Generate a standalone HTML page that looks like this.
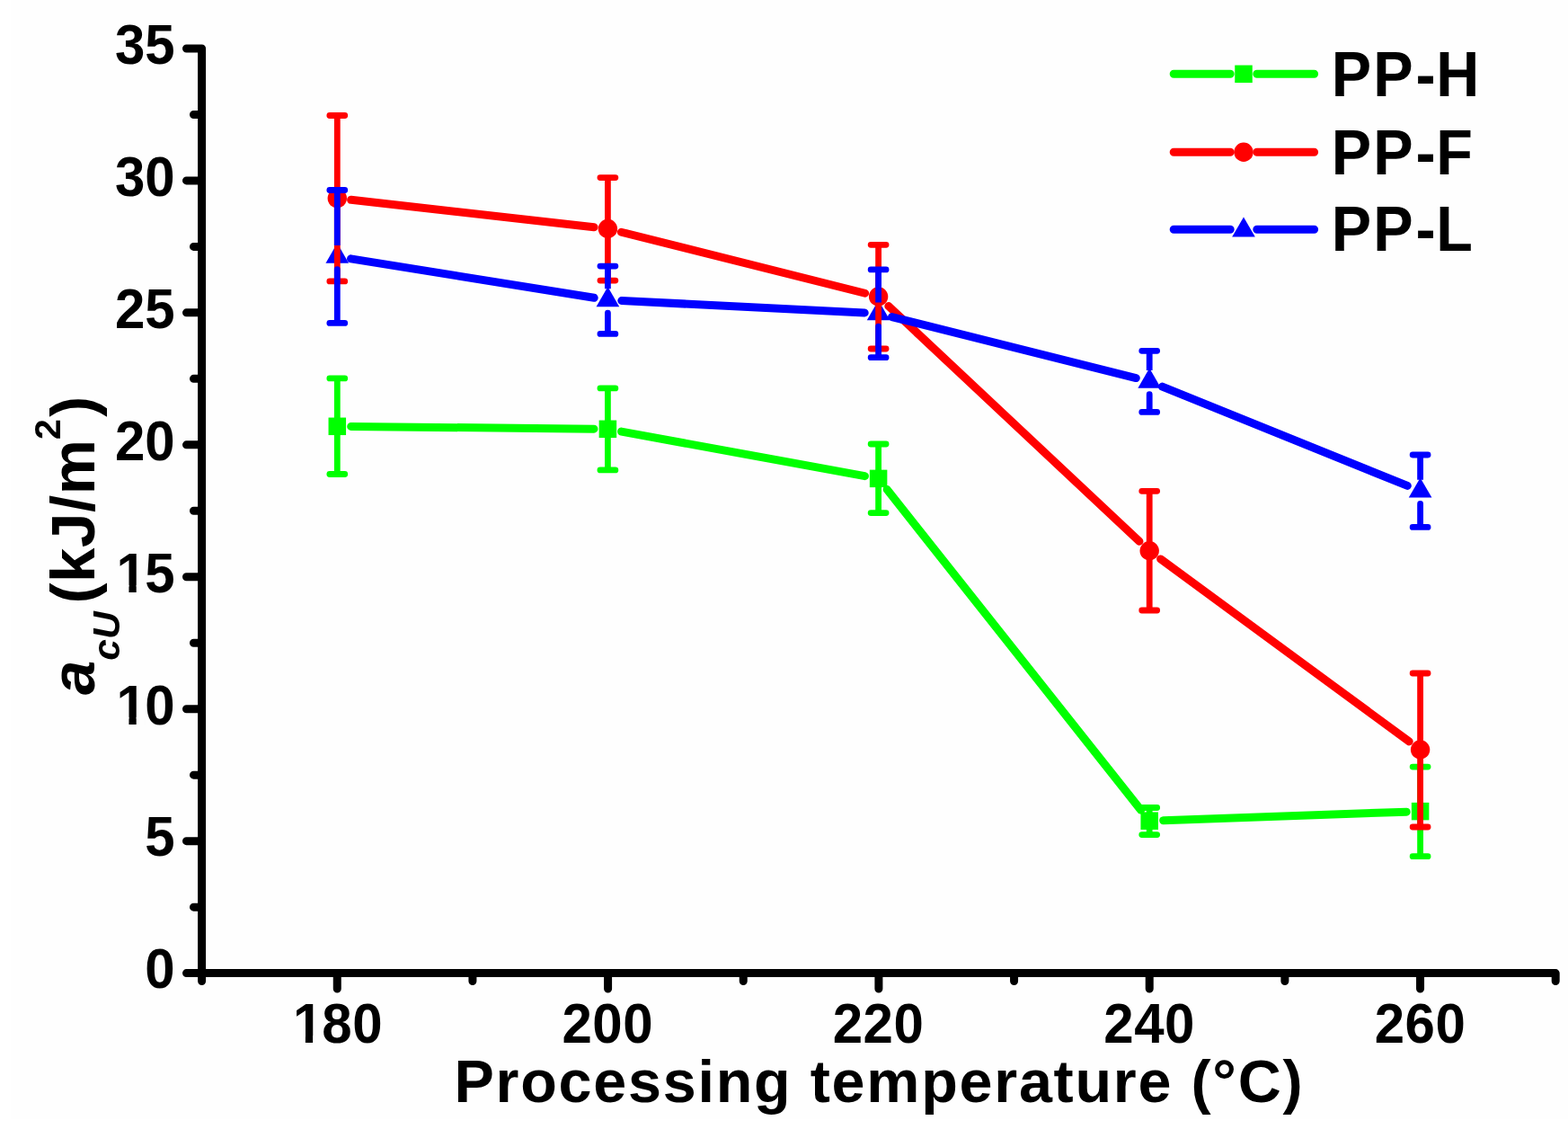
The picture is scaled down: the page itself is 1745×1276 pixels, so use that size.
<!DOCTYPE html>
<html><head><meta charset="utf-8"><title>Processing temperature chart</title>
<style>html,body{margin:0;padding:0;background:#fff;}svg{display:block;}</style>
</head><body>
<svg width="1745" height="1276" viewBox="0 0 1745 1276">
<rect width="1745" height="1276" fill="#fff"/><rect x="12" y="0" width="1733" height="1245" fill="#fefefe"/>
<path d="M224.6 1091.5 L224.6 53.98 L207.5 53.98 M224.6 1082.6 H207.5 M224.6 935.65 H207.5 M224.6 788.71 H207.5 M224.6 641.76 H207.5 M224.6 494.82 H207.5 M224.6 347.87 H207.5 M224.6 200.93 H207.5 M224.6 1009.13 H215.5 M224.6 862.18 H215.5 M224.6 715.24 H215.5 M224.6 568.29 H215.5 M224.6 421.35 H215.5 M224.6 274.4 H215.5 M224.6 127.46 H215.5 M224.6 1082.6 L1731.2 1082.6 L1731.2 1091.5 M375.26 1082.6 V1100 M676.58 1082.6 V1100 M977.9 1082.6 V1100 M1279.22 1082.6 V1100 M1580.54 1082.6 V1100 M525.92 1082.6 V1091.5 M827.24 1082.6 V1091.5 M1128.56 1082.6 V1091.5 M1429.88 1082.6 V1091.5" fill="none" stroke="#000" stroke-width="9" stroke-linecap="round" stroke-linejoin="round"/>
<path d="M390.7 474.45L661 477.15M691.55 480.07L962.45 529.63M987.16 544.47L1269.64 901.13M1294.59 912.66L1565.21 903.14" fill="none" stroke="#00ff00" stroke-width="9" stroke-linecap="round"/>
<rect x="365.55" y="464.55" width="19.5" height="19.5" fill="#00ff00"/>
<rect x="666.65" y="467.55" width="19.5" height="19.5" fill="#00ff00"/>
<rect x="967.85" y="522.65" width="19.5" height="19.5" fill="#00ff00"/>
<rect x="1269.45" y="903.45" width="19.5" height="19.5" fill="#00ff00"/>
<rect x="1570.85" y="892.85" width="19.5" height="19.5" fill="#00ff00"/>
<path d="M390.6 222.32L661.1 252.78M691.34 258.24L962.66 326.26M988.83 340.53L1267.97 602.27M1291.62 621.91L1568.18 824.89" fill="none" stroke="#ff0000" stroke-width="9" stroke-linecap="round"/>
<circle cx="375.3" cy="220.6" r="10.7" fill="#ff0000"/>
<circle cx="676.4" cy="254.5" r="10.7" fill="#ff0000"/>
<circle cx="977.6" cy="330" r="10.7" fill="#ff0000"/>
<circle cx="1279.2" cy="612.8" r="10.7" fill="#ff0000"/>
<circle cx="1580.6" cy="834" r="10.7" fill="#ff0000"/>
<path d="M390.51 287.84L661.19 331.31M691.78 334.52L962.22 348.03M992.54 352.54L1264.26 420.61M1293.48 430.12L1566.32 540.43" fill="none" stroke="#0000ff" stroke-width="9" stroke-linecap="round"/>
<path d="M375.3 270.6L388.12 292.8L362.48 292.8Z" fill="#0000ff"/>
<path d="M676.4 318.95L689.22 341.15L663.58 341.15Z" fill="#0000ff"/>
<path d="M977.6 334L990.42 356.2L964.78 356.2Z" fill="#0000ff"/>
<path d="M1279.2 409.55L1292.02 431.75L1266.38 431.75Z" fill="#0000ff"/>
<path d="M1580.6 531.4L1593.42 553.6L1567.78 553.6Z" fill="#0000ff"/>
<path d="M375.3 420.9V467.3M676.4 431.9V470.3M977.6 494V525.4M1279.2 898.5V906.2M1580.6 853.1V895.6" fill="none" stroke="#00ff00" stroke-width="6.8" stroke-linecap="butt"/>
<path d="M366.85 420.9H383.75M375.3 481.3V527.5M366.85 527.5H383.75M667.95 431.9H684.85M676.4 484.3V522.9M667.95 522.9H684.85M969.15 494H986.05M977.6 539.4V570.6M969.15 570.6H986.05M1270.75 898.5H1287.65M1279.2 920.2V928.6M1270.75 928.6H1287.65M1572.15 853.1H1589.05M1580.6 909.6V952.7M1572.15 952.7H1589.05" fill="none" stroke="#00ff00" stroke-width="6.8" stroke-linecap="round" stroke-linejoin="round"/>
<path d="M375.3 128.5V213.6M676.4 197.6V247.5M977.6 272.3V323M1279.2 546.3V605.8M1580.6 749V827" fill="none" stroke="#ff0000" stroke-width="6.8" stroke-linecap="butt"/>
<path d="M366.85 128.5H383.75M375.3 227.6V312.9M366.85 312.9H383.75M667.95 197.6H684.85M676.4 261.5V312.1M667.95 312.1H684.85M969.15 272.3H986.05M977.6 337V388M969.15 388H986.05M1270.75 546.3H1287.65M1279.2 619.8V679M1270.75 679H1287.65M1572.15 749H1589.05M1580.6 841V920M1572.15 920H1589.05" fill="none" stroke="#ff0000" stroke-width="6.8" stroke-linecap="round" stroke-linejoin="round"/>
<path d="M375.3 211.5V273M676.4 296.1V321.35M977.6 299.9V336.4M1279.2 390.3V411.95M1580.6 506V533.8" fill="none" stroke="#0000ff" stroke-width="6.8" stroke-linecap="butt"/>
<path d="M366.85 211.5H383.75M375.3 299.7V359.4M366.85 359.4H383.75M667.95 296.1H684.85M676.4 348.05V371.4M667.95 371.4H684.85M969.15 299.9H986.05M977.6 363.1V397.7M969.15 397.7H986.05M1270.75 390.3H1287.65M1279.2 438.65V458.4M1270.75 458.4H1287.65M1572.15 506H1589.05M1580.6 560.5V586.4M1572.15 586.4H1589.05" fill="none" stroke="#0000ff" stroke-width="6.8" stroke-linecap="round" stroke-linejoin="round"/>
<path d="M1306.2 82.3H1369.2 M1398.8 82.3H1462.6" fill="none" stroke="#00ff00" stroke-width="9" stroke-linecap="round"/>
<rect x="1374.25" y="72.55" width="19.5" height="19.5" fill="#00ff00"/>
<path d="M1306.2 169.2H1369.2 M1398.8 169.2H1462.6" fill="none" stroke="#ff0000" stroke-width="9" stroke-linecap="round"/>
<circle cx="1384" cy="169.2" r="10.7" fill="#ff0000"/>
<path d="M1306.2 255.3H1369.2 M1398.8 255.3H1462.6" fill="none" stroke="#0000ff" stroke-width="9" stroke-linecap="round"/>
<path d="M1384 241.4L1396.82 263.6L1371.18 263.6Z" fill="#0000ff"/>
<g font-family="&quot;Liberation Sans&quot;, Arial, sans-serif" font-weight="bold" fill="#000"><text transform="translate(161.33 1099.4) scale(1 1.04)" font-size="60" text-anchor="start">0</text><text transform="translate(161.33 952.45) scale(1 1.04)" font-size="60" text-anchor="start">5</text><text transform="translate(127.96 805.51) scale(1 1.04)" font-size="60" text-anchor="start"><tspan dx="1.5">1</tspan><tspan dx="-1.5">0</tspan></text><text transform="translate(127.96 658.56) scale(1 1.04)" font-size="60" text-anchor="start"><tspan dx="1.5">1</tspan><tspan dx="-1.5">5</tspan></text><text transform="translate(127.96 511.62) scale(1 1.04)" font-size="60" text-anchor="start">20</text><text transform="translate(127.96 364.67) scale(1 1.04)" font-size="60" text-anchor="start">25</text><text transform="translate(127.96 217.73) scale(1 1.04)" font-size="60" text-anchor="start">30</text><text transform="translate(127.96 70.78) scale(1 1.04)" font-size="60" text-anchor="start">35</text><text transform="translate(324.4 1160) scale(1 1.04)" font-size="60" text-anchor="start" letter-spacing="0.5"><tspan dx="1.5">1</tspan><tspan dx="-1.5">80</tspan></text><text transform="translate(625.5 1160) scale(1 1.04)" font-size="60" text-anchor="start" letter-spacing="0.5">200</text><text transform="translate(926.7 1160) scale(1 1.04)" font-size="60" text-anchor="start" letter-spacing="0.5">220</text><text transform="translate(1228.3 1160) scale(1 1.04)" font-size="60" text-anchor="start" letter-spacing="0.5">240</text><text transform="translate(1529.7 1160) scale(1 1.04)" font-size="60" text-anchor="start" letter-spacing="0.5">260</text><text transform="translate(505.45 1225.94) scale(1 1.01)" font-size="66.5" text-anchor="start" letter-spacing="1.75">Processing temperature (°C)</text><text transform="translate(1481.7 106.7) scale(1 1.05)" font-size="66.5" text-anchor="start" letter-spacing="2.2">PP<tspan dx="0.7">-</tspan><tspan dx="-1.6">H</tspan></text><text transform="translate(1481.7 193.8) scale(1 1.05)" font-size="66.5" text-anchor="start" letter-spacing="2.2">PP<tspan dx="0.7">-</tspan><tspan dx="-1.6">F</tspan></text><text transform="translate(1481.7 279.4) scale(1 1.05)" font-size="66.5" text-anchor="start" letter-spacing="2.2">PP<tspan dx="0.7">-</tspan><tspan dx="-1.6">L</tspan></text></g>
<rect x="132.44" y="797.84" width="11.02" height="8.27" fill="#fefefe"/><rect x="151.7" y="797.84" width="10.26" height="8.27" fill="#fefefe"/><rect x="132.44" y="650.9" width="11.02" height="8.27" fill="#fefefe"/><rect x="151.7" y="650.9" width="10.26" height="8.27" fill="#fefefe"/><rect x="328.88" y="1152.33" width="11.02" height="8.27" fill="#fefefe"/><rect x="348.13" y="1152.33" width="10.26" height="8.27" fill="#fefefe"/>
<text transform="translate(105.3 773.1) rotate(-90)" font-family="&quot;Liberation Sans&quot;, Arial, sans-serif" font-weight="bold" font-size="69"><tspan font-style="italic">a</tspan><tspan font-style="italic" font-size="42.5" dy="27.5">cU</tspan><tspan dy="-27.5" dx="8.8" letter-spacing="0.6">(kJ/m</tspan><tspan font-size="41.5" dy="-38.4" dx="-1">2</tspan><tspan dy="38.4" dx="2.5">)</tspan></text>
</svg>
</body></html>
